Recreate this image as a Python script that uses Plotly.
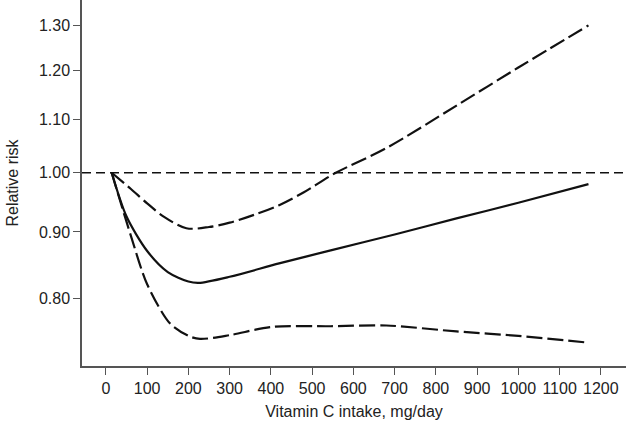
import math
import plotly.graph_objects as go

# Vitamin C intake (mg/day) and relative risk estimates
x_main = [14, 50, 100, 150, 200, 225, 300, 420, 545, 700, 850, 1000, 1170]
rr_main = [1.00, 0.925, 0.870, 0.838, 0.824, 0.822, 0.831, 0.851, 0.871, 0.896, 0.922, 0.948, 0.980]

x_upper = [14, 60, 100, 140, 195, 250, 300, 360, 420, 480, 555, 680, 850, 1000, 1170]
rr_upper = [1.00, 0.972, 0.947, 0.925, 0.906, 0.908, 0.915, 0.928, 0.944, 0.966, 0.999, 1.045, 1.127, 1.206, 1.30]

x_lower = [14, 60, 100, 155, 200, 228, 300, 400, 545, 680, 850, 1000, 1170]
rr_lower = [1.00, 0.895, 0.820, 0.765, 0.748, 0.744, 0.749, 0.760, 0.761, 0.762, 0.754, 0.748, 0.739]

x_ticks = [0, 100, 200, 300, 400, 500, 600, 700, 800, 900, 1000, 1100, 1200]
y_ticks = [0.80, 0.90, 1.00, 1.10, 1.20, 1.30]
x_range = [-58, 1261]
y_range = [0.709, 1.360]

fig = go.Figure()

fig.add_trace(go.Scatter(x=x_range, y=[1.0, 1.0], mode="lines",
                         line=dict(color="#111", width=1.4, dash="9px,5px"),
                         hoverinfo="skip"))
fig.add_trace(go.Scatter(x=x_upper, y=rr_upper, mode="lines",
                         line=dict(color="#111", width=2.2, dash="16px,5px", shape="spline", smoothing=0.9)))
fig.add_trace(go.Scatter(x=x_main, y=rr_main, mode="lines",
                         line=dict(color="#111", width=2.2, shape="spline", smoothing=0.8)))
fig.add_trace(go.Scatter(x=x_lower, y=rr_lower, mode="lines",
                         line=dict(color="#111", width=2.2, dash="16px,5px", shape="spline", smoothing=0.8)))

axis_font = dict(family="Liberation Sans", size=16, color="#222")

fig.update_layout(
    width=626, height=427,
    margin=dict(l=82, r=0, t=0, b=61),
    paper_bgcolor="white", plot_bgcolor="white",
    showlegend=False,
    font=axis_font,
    xaxis=dict(
        range=x_range, tickvals=x_ticks, ticktext=[str(v) for v in x_ticks],
        automargin=False,
        showgrid=False, zeroline=False, showline=True, linecolor="#555", linewidth=1.5,
        ticks="outside", ticklen=7, tickwidth=1.3, tickcolor="#555",
        tickfont=axis_font,
        title=dict(text="Vitamin C intake, mg/day", font=axis_font, standoff=10),
    ),
    yaxis=dict(
        type="log", range=[math.log10(y_range[0]), math.log10(y_range[1])],
        tickvals=y_ticks, ticktext=[f"{v:.2f}" for v in y_ticks],
        automargin=False,
        showgrid=False, zeroline=False, showline=True, linecolor="#555", linewidth=1.5,
        ticks="outside", ticklen=7, tickwidth=1.3, tickcolor="#555",
        tickfont=axis_font,
        title=dict(text="Relative risk", font=axis_font, standoff=16),
    ),
)

fig.write_html("out.html", config={"displayModeBar": False},
               post_script="document.body.style.margin='0';")
